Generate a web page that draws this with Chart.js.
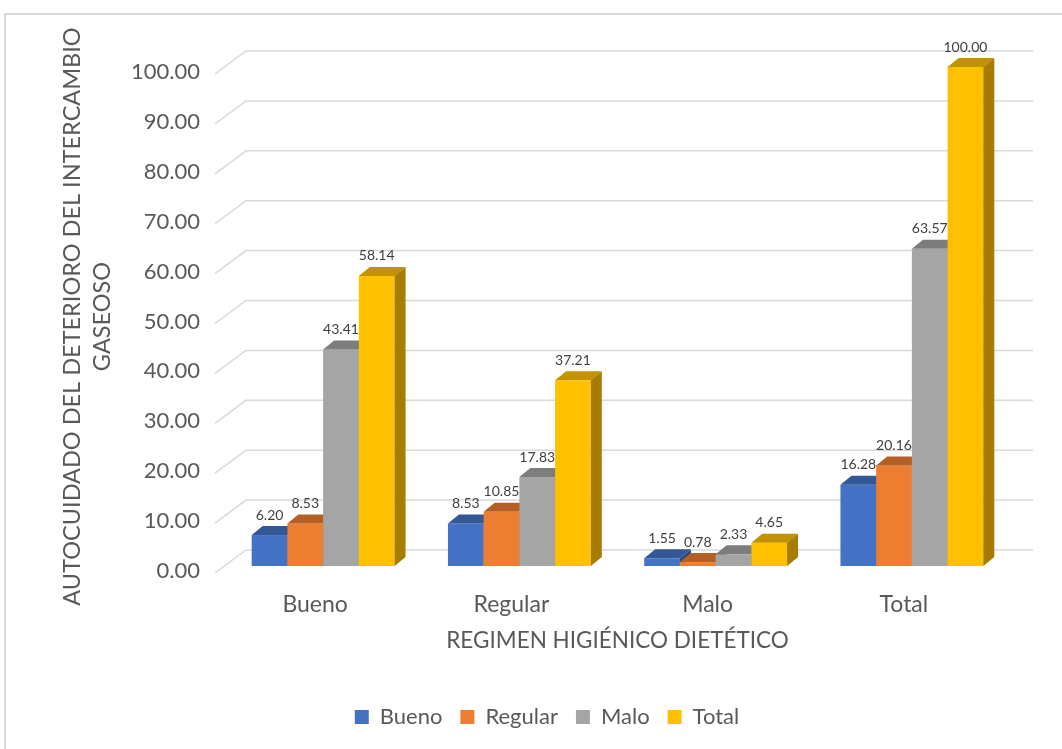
<!DOCTYPE html>
<html>
<head>
<meta charset="utf-8">
<script src="https://cdn.jsdelivr.net/npm/chart.js@4/dist/chart.umd.min.js"></script>
<style>
  html, body { margin: 0; padding: 0; background: #fff; }
  canvas { display: block; }
</style>
</head>
<body>
<canvas id="chartCanvas" width="1062" height="749"></canvas>
<script>
var categories = ['Bueno', 'Regular', 'Malo', 'Total'];
var bueno   = [6.20, 8.53, 1.55, 16.28];
var regular = [8.53, 10.85, 0.78, 20.16];
var malo    = [43.41, 17.83, 2.33, 63.57];
var total   = [58.14, 37.21, 4.65, 100.00];

var colors = ['#4472C4', '#ED7D31', '#A5A5A5', '#FFC000'];

// depth of the bar boxes (px)
var depthX = 11, depthY = 9;

function shade(hex, f) {
  var n = parseInt(hex.slice(1), 16);
  var r = Math.round(((n >> 16) & 255) * f);
  var g = Math.round(((n >> 8) & 255) * f);
  var b = Math.round((n & 255) * f);
  return 'rgb(' + r + ',' + g + ',' + b + ')';
}

// back wall grid + 3D boxes + value labels
var bars3d = {
  id: 'bars3d',
  beforeDraw: function(chart) {
    var ctx = chart.ctx;
    ctx.save();
    ctx.strokeStyle = '#d9d9d9';
    ctx.lineWidth = 2;
    ctx.strokeRect(5, 14, 1200, 900);
    ctx.restore();
  },
  beforeDatasetsDraw: function(chart) {
    var ctx = chart.ctx;
    var area = chart.chartArea;
    var yScale = chart.scales.y;

    ctx.save();
    ctx.strokeStyle = '#d9d9d9';
    ctx.lineWidth = 1.5;
    yScale.ticks.forEach(function(t) {
      var py = yScale.getPixelForValue(t.value);
      ctx.beginPath();
      ctx.moveTo(area.left - 10, py + 7);
      ctx.lineTo(area.left + 21, py - 16);
      ctx.lineTo(area.right + 23, py - 16);
      ctx.stroke();
    });

    chart.data.datasets.forEach(function(ds, i) {
      var meta = chart.getDatasetMeta(i);
      var c = ds.backgroundColor;
      meta.data.forEach(function(bar) {
        var p = bar.getProps(['x', 'y', 'base', 'width'], true);
        var l = p.x - p.width / 2, r = p.x + p.width / 2;
        // front
        ctx.fillStyle = c;
        ctx.fillRect(l, p.y, r - l, p.base - p.y);
        // top
        ctx.fillStyle = shade(c, 0.76);
        ctx.beginPath();
        ctx.moveTo(l, p.y);
        ctx.lineTo(r, p.y);
        ctx.lineTo(r + depthX, p.y - depthY);
        ctx.lineTo(l + depthX, p.y - depthY);
        ctx.closePath();
        ctx.fill();
        // side
        ctx.fillStyle = shade(c, 0.65);
        ctx.beginPath();
        ctx.moveTo(r, p.y);
        ctx.lineTo(r + depthX, p.y - depthY);
        ctx.lineTo(r + depthX, p.base - depthY);
        ctx.lineTo(r, p.base);
        ctx.closePath();
        ctx.fill();
      });
    });

    ctx.fillStyle = '#404040';
    ctx.font = '14px Lato';
    ctx.textAlign = 'center';
    ctx.textBaseline = 'middle';
    chart.data.datasets.forEach(function(ds, i) {
      chart.getDatasetMeta(i).data.forEach(function(bar, j) {
        ctx.fillText(ds.data[j].toFixed(2), bar.x, bar.y - 20);
      });
    });
    ctx.restore();
    return false;
  }
};

Chart.defaults.font.family = 'Lato';
Chart.defaults.color = '#595959';

var ctx = document.getElementById('chartCanvas').getContext('2d');
var chart = new Chart(ctx, {
  type: 'bar',
  data: {
    labels: categories,
    datasets: [
      { label: 'Bueno', data: bueno, backgroundColor: colors[0] },
      { label: 'Regular', data: regular, backgroundColor: colors[1] },
      { label: 'Malo', data: malo, backgroundColor: colors[2] },
      { label: 'Total', data: total, backgroundColor: colors[3] }
    ]
  },
  options: {
    responsive: false,
    animation: false,
    layout: {
      padding: { left: 84, top: 67, right: 52, bottom: 11 }
    },
    datasets: {
      bar: { barPercentage: 1, categoryPercentage: 0.728 }
    },
    plugins: {
      legend: {
        position: 'bottom',
        labels: {
          boxWidth: 14,
          boxHeight: 14,
          padding: 18,
          font: { size: 22 }
        }
      },
      tooltip: { enabled: false }
    },
    scales: {
      x: {
        grid: { display: false, drawTicks: false },
        border: { display: false },
        ticks: { font: { size: 23 }, padding: 25, labelOffset: -8 },
        title: {
          display: true,
          text: 'REGIMEN HIGIÉNICO DIETÉTICO',
          font: { size: 22.5 },
          padding: { top: 0, bottom: 33.5 }
        },
        afterFit: function(scale) { scale.height = 122; }
      },
      y: {
        min: 0,
        max: 100,
        grid: { display: false, drawTicks: false },
        border: { display: false },
        ticks: {
          stepSize: 10,
          padding: 25,
          labelOffset: 5,
          font: { size: 22 },
          callback: function(v) { return v.toFixed(2); }
        },
        title: {
          display: true,
          text: ['AUTOCUIDADO DEL DETERIORO DEL INTERCAMBIO', 'GASEOSO'],
          font: { size: 23.5, lineHeight: 1.277 },
          padding: { top: -27, bottom: 0 }
        },
        afterFit: function(scale) { scale.width = 141; }
      }
    }
  },
  plugins: [bars3d]
});
</script>
</body>
</html>
